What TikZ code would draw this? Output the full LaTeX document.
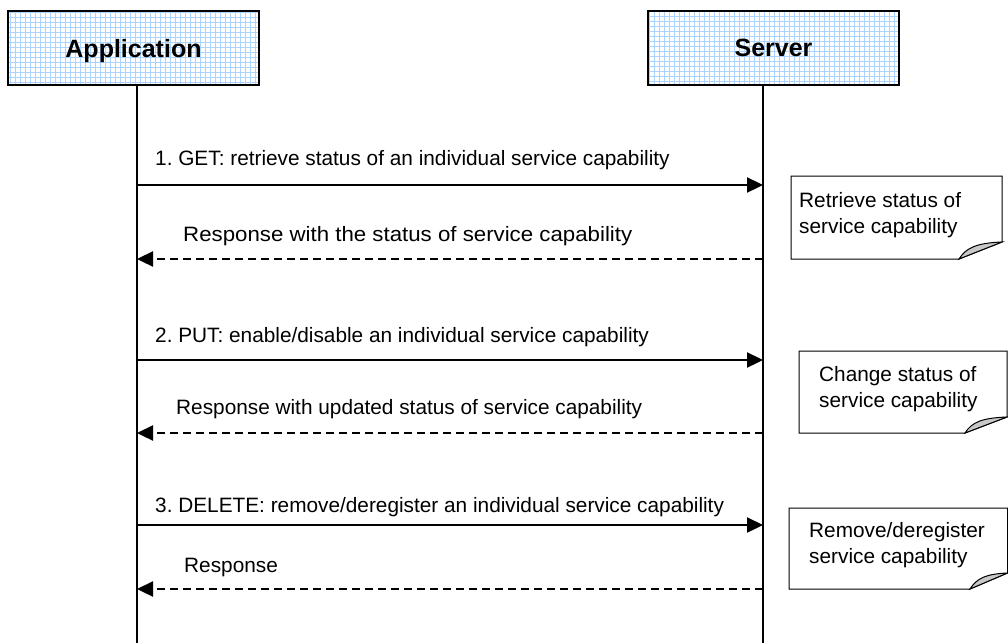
\documentclass[tikz,border=0pt]{standalone}
\usepackage{fontspec}
\setmainfont{Liberation Sans}
\usetikzlibrary{arrows.meta}
\definecolor{gridblue}{RGB}{170,212,255}
\definecolor{foldgray}{RGB}{200,200,200}
\frenchspacing
\begin{document}
\begin{tikzpicture}[x=1pt,y=-1pt,
  actor/.style={draw=black, line width=2.4pt, minimum width=251pt, minimum height=74pt,
    inner sep=0pt, text depth=0pt, font=\fontsize{25}{28}\selectfont\bfseries,
    path picture={\draw[gridblue, line width=0.7pt]
      (path picture bounding box.south west) grid[step=5pt] (path picture bounding box.north east);}},
  lifeline/.style={line width=1.8pt},
  msg/.style={line width=2.3pt, -{Triangle[length=16pt,width=15pt]}},
  reply/.style={line width=2.3pt, dash pattern=on 8pt off 5pt, -{Triangle[length=16pt,width=15pt]}},
  msgtext/.style={anchor=base west, inner sep=0pt, font=\fontsize{20.8}{24}\selectfont},
  notetext/.style={anchor=base west, inner sep=0pt, align=left, font=\fontsize{20.8}{26}\selectfont},
  noteshape/.style={draw=black, line width=1pt, fill=white},
  foldshape/.style={draw=black, line width=1pt, fill=foldgray}]
\useasboundingbox (0,0) rectangle (1008,643);

% actors
\node[actor] (app) at (133.5,48) {Application};
\node[actor] (srv) at (773.5,48) {Server};

% lifelines
\coordinate (appEnd) at (137,643);
\coordinate (srvEnd) at (763,643);
\draw[lifeline] (app.south -| appEnd) -- (appEnd);
\draw[lifeline] (srv.south -| srvEnd) -- (srvEnd);

% message points
\coordinate (a1) at (137,185); \coordinate (s1) at (763,185);
\coordinate (a2) at (137,259); \coordinate (s2) at (763,259);
\coordinate (a3) at (137,360); \coordinate (s3) at (763,360);
\coordinate (a4) at (137,433); \coordinate (s4) at (763,433);
\coordinate (a5) at (137,525); \coordinate (s5) at (763,525);
\coordinate (a6) at (137,589); \coordinate (s6) at (763,589);

\draw[msg] (a1) -- (s1);
\draw[reply] (s2) -- (a2);
\draw[msg] (a3) -- (s3);
\draw[reply] (s4) -- (a4);
\draw[msg] (a5) -- (s5);
\draw[reply] (s6) -- (a6);

\node[msgtext] (m1) at (155,165) {1. GET: retrieve status of an individual service capability};
\node[msgtext] (m2) at (183,241) {\scalebox{1.07}[1]{Response with the status of service capability}};
\node[msgtext] (m3) at (155,342) {2. PUT: enable/disable an individual service capability};
\node[msgtext] (m4) at (176,414) {Response with updated status of service capability};
\node[msgtext] (m5) at (155,512) {3. DELETE: remove/deregister an individual service capability};
\node[msgtext] (m6) at (184,572) {Response};

% notes
% note 1
\draw[noteshape] (791,176) -- (1002,176) -- (1002,242) -- (959,259) -- (791,259) -- cycle;
\draw[foldshape] (959,259) .. controls (966,248) and (976,243) .. (1002,242) -- cycle;
\node[notetext] (n1) at (799,233) {Retrieve status of\\service capability};
% note 2
\draw[noteshape] (799,351) -- (1007,351) -- (1007,417) -- (965,433) -- (799,433) -- cycle;
\draw[foldshape] (965,433) .. controls (972,422) and (982,418) .. (1007,417) -- cycle;
\node[notetext] (n2) at (819,407) {Change status of\\service capability};
% note 3
\draw[noteshape] (789,508) -- (1007.5,508) -- (1007.5,573) -- (970,589) -- (789,589) -- cycle;
\draw[foldshape] (970,589) .. controls (977,578) and (986,574) .. (1007.5,573) -- cycle;
\node[notetext] (n3) at (809,563) {Remove/deregister\\service capability};
\end{tikzpicture}
\end{document}
